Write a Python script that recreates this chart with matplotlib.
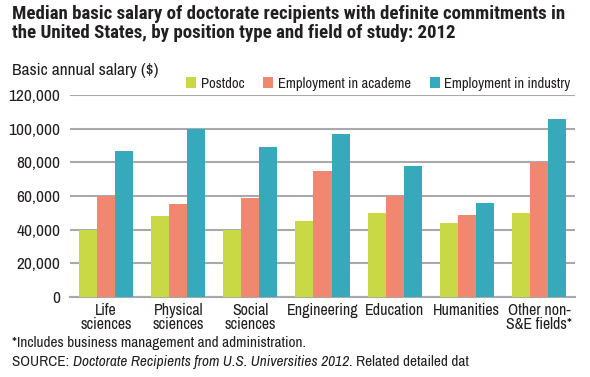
import numpy as np
import matplotlib
matplotlib.use('Agg')
import matplotlib.pyplot as plt

# ── 데이터 ─────────────────────────────────────────────
fields   = ['Life\nsciences', 'Physical\nsciences', 'Social\nsciences', 'Engineering',
            'Education', 'Humanities', 'Other non-\nS&E fields*']
postdoc  = [40000, 48000, 40000, 45000, 50000, 44000, 50000]
academe  = [60000, 55000, 59000, 75000, 60000, 49000, 80000]
industry = [87000, 100000, 89000, 97000, 78000, 56000, 105500]
yticks   = [0, 20000, 40000, 60000, 80000, 100000, 120000]

series = [('Postdoc', postdoc, '#c9d945'),
          ('Employment in academe', academe, '#f08770'),
          ('Employment in industry', industry, '#36a9ba')]

plt.rcParams['font.family'] = ['Archivo Narrow', 'DejaVu Sans']
TXT = '#231f20'

fig = plt.figure(figsize=(5.9, 3.77), dpi=100)
ax = fig.add_axes([70 / 590, 1 - 297 / 377, 505 / 590, 202 / 377])

x = np.arange(len(fields))
width = 0.25
for i, (label, vals, color) in enumerate(series):
    ax.bar(x + (i - 1) * width, vals, width, color=color, label=label, zorder=3)

ax.set_xlim(-0.5, len(fields) - 0.5)
ax.set_ylim(0, 120000)
ax.set_yticks(yticks)
ax.set_yticklabels([f'{v:,}' for v in yticks], fontsize=12.5, color=TXT)
ax.set_xticks(x)
ax.set_xticklabels(fields, fontsize=11.5, color=TXT, linespacing=0.95)
ax.tick_params(axis='y', length=0, pad=7)
ax.tick_params(axis='x', length=0, pad=4)
ax.grid(axis='y', color='#a7a9ac', lw=1.5, zorder=0)
for s in ['top', 'right', 'left']:
    ax.spines[s].set_visible(False)
ax.spines['bottom'].set_color('#a7a9ac')
ax.spines['bottom'].set_linewidth(1.5)

ax.legend(loc='lower right', bbox_to_anchor=(1.0, 1.0), ncol=3, frameon=False,
          fontsize=10.5, handlelength=0.7, handleheight=0.7, handletextpad=0.3,
          columnspacing=1.3, borderaxespad=0.1, borderpad=0.2, labelcolor=TXT)

# ── 제목 / 주석 ────────────────────────────────────────
fig.text(12 / 590, 1 - 5 / 377,
         'Median basic salary of doctorate recipients with definite commitments in\n'
         'the United States, by position type and field of study: 2012',
         ha='left', va='top', fontsize=13.6, fontweight='bold', color=TXT, linespacing=1.05,
         family=['Roboto Condensed', 'DejaVu Sans'])
fig.text(12 / 590, 1 - 70 / 377, 'Basic annual salary ($)', ha='left', va='center',
         fontsize=12.5, color=TXT)
fig.text(12 / 590, 1 - 343 / 377, '*Includes business management and administration.',
         ha='left', va='center', fontsize=11, color=TXT)

fig.canvas.draw()
r = fig.canvas.get_renderer()
y_src = 1 - 362 / 377
t1 = fig.text(12 / 590, y_src, 'SOURCE: ', ha='left', va='center', fontsize=11, color=TXT)
x1 = fig.transFigure.inverted().transform((t1.get_window_extent(r).x1, 0))[0]
t2 = fig.text(x1, y_src, 'Doctorate Recipients from U.S. Universities 2012', ha='left',
              va='center', fontsize=11, color=TXT, style='italic')
x2 = fig.transFigure.inverted().transform((t2.get_window_extent(r).x1, 0))[0]
fig.text(x2, y_src, '. Related detailed dat', ha='left', va='center', fontsize=11, color=TXT)

fig.savefig('out.png', dpi=100)
